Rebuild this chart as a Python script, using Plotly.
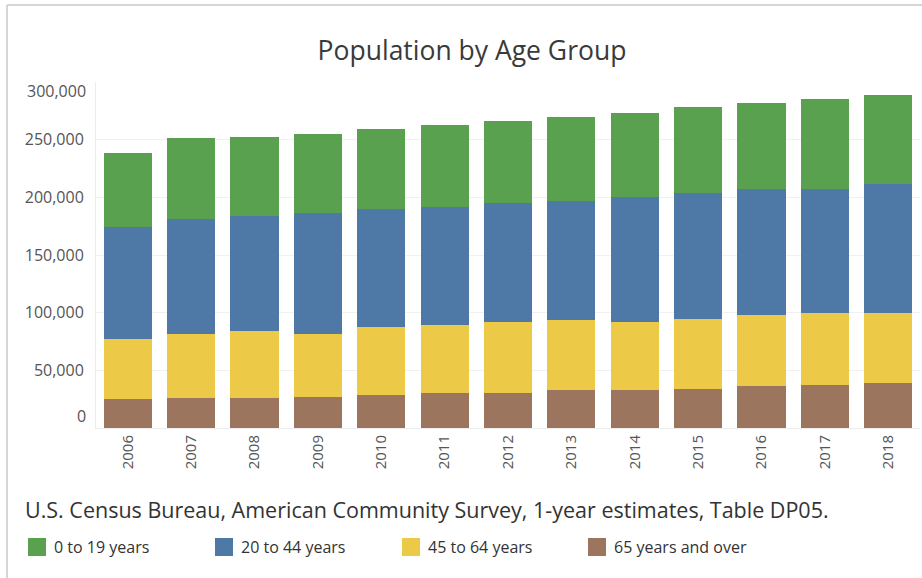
import plotly.graph_objects as go

years = ["2006", "2007", "2008", "2009", "2010", "2011", "2012",
         "2013", "2014", "2015", "2016", "2017", "2018"]

age_65_over = [24800, 25900, 25900, 27100, 28300, 30600, 30600,
               32900, 32900, 34000, 36400, 37500, 38700]
age_45_64 = [52700, 56000, 58300, 54800, 59400, 58300, 61700,
             60600, 59400, 60600, 61700, 61800, 60600]
age_20_44 = [97100, 99700, 100000, 104300, 102300, 103100, 103200,
             103500, 108100, 109300, 109300, 108100, 112400]
age_0_19 = [63800, 69900, 68400, 68800, 69600, 71000, 71000,
            73000, 73100, 74200, 74200, 77700, 76900]

series_names = ["0 to 19 years", "20 to 44 years", "45 to 64 years", "65 years and over"]
series_values = [age_0_19, age_20_44, age_45_64, age_65_over]
series_colors = ["#59a14f", "#4e79a7", "#edc948", "#9c755f"]

y_tick_vals = [0, 50000, 100000, 150000, 200000, 250000, 300000]
y_tick_text = ["0", "50,000", "100,000", "150,000", "200,000", "250,000", "300,000"]

title_text = "Population by Age Group"
source_text = "U.S. Census Bureau, American Community Survey, 1-year estimates, Table DP05."

W, H = 922, 578
ML, MR, MT, MB = 96, 2, 82, 150
PW = W - ML - MR
PH = H - MT - MB


def px(x):
    return (x - ML) / PW


def py(y):
    return (H - MB - y) / PH


FONT = "Open Sans"
TICK_COLOR = "#555555"
fig = go.Figure()

# stacked from bottom: 65+, 45-64, 20-44, 0-19
for name, vals, col in reversed(list(zip(series_names, series_values, series_colors))):
    fig.add_trace(go.Bar(x=years, y=vals, name=name, marker=dict(color=col, line=dict(width=0)),
                         showlegend=False,
                         hovertemplate="%{x}<br>" + name + ": %{y:,}<extra></extra>"))

shapes = []
annotations = []

# outer frame lines (top and left)
shapes.append(dict(type="line", xref="paper", yref="paper", x0=px(7), x1=px(922), y0=py(5), y1=py(5),
                   line=dict(color="#d6d6d6", width=2)))
shapes.append(dict(type="line", xref="paper", yref="paper", x0=px(7), x1=px(7), y0=py(5), y1=py(578),
                   line=dict(color="#d6d6d6", width=2)))

# custom legend
leg_sq_x = [28, 215, 402, 588]
for i, (name, col) in enumerate(zip(series_names, series_colors)):
    x0 = leg_sq_x[i]
    shapes.append(dict(type="rect", xref="paper", yref="paper",
                       x0=px(x0), x1=px(x0 + 18), y0=py(538), y1=py(556),
                       fillcolor=col, line=dict(width=0)))
    annotations.append(dict(text=name, xref="paper", yref="paper", x=px(x0 + 24), y=py(547),
                            xanchor="left", yanchor="middle", showarrow=False,
                            font=dict(family=FONT, size=16, color="#333333")))

# source text
annotations.append(dict(text=source_text, xref="paper", yref="paper", x=px(23), y=py(509),
                        xanchor="left", yanchor="middle", showarrow=False,
                        font=dict(family=FONT, size=21.5, color="#333333")))

# end tick labels clamped inside the pane (as in the original)
annotations.append(dict(text=y_tick_text[0], xref="paper", yref="y", x=px(88), y=y_tick_vals[0],
                        xanchor="right", yanchor="middle", yshift=12, showarrow=False,
                        font=dict(family=FONT, size=16, color=TICK_COLOR)))
annotations.append(dict(text=y_tick_text[-1], xref="paper", yref="y", x=px(88), y=y_tick_vals[-1],
                        xanchor="right", yanchor="middle", yshift=-9, showarrow=False,
                        font=dict(family=FONT, size=16, color=TICK_COLOR)))

tick_text_mid = [""] + y_tick_text[1:-1] + [""]

fig.update_layout(
    width=W, height=H,
    margin=dict(l=ML, r=MR, t=MT, b=MB),
    barmode="stack",
    bargap=0.24,
    plot_bgcolor="white",
    paper_bgcolor="white",
    title=dict(text=title_text, xref="container", x=472 / W, y=1 - 51 / H,
               xanchor="center", yanchor="middle",
               font=dict(family=FONT, size=26.5, color="#3a3a3a")),
    xaxis=dict(type="category", tickangle=-90, showgrid=False,
               showline=True, linecolor="#ececec", linewidth=1,
               ticks="", tickfont=dict(family=FONT, size=15, color=TICK_COLOR)),
    yaxis=dict(range=[0, 300000], tickvals=y_tick_vals, ticktext=tick_text_mid,
               showgrid=True, gridcolor="#f0f0f0", gridwidth=1,
               zeroline=False, showline=True, linecolor="#ececec", linewidth=1,
               ticks="", ticklabelstandoff=8,
               tickfont=dict(family=FONT, size=16, color=TICK_COLOR)),
    shapes=shapes,
    annotations=annotations,
    showlegend=False,
)

fig.write_html("out.html", config={"displayModeBar": False},
               post_script="document.body.style.margin='0';document.body.style.overflow='hidden';")
